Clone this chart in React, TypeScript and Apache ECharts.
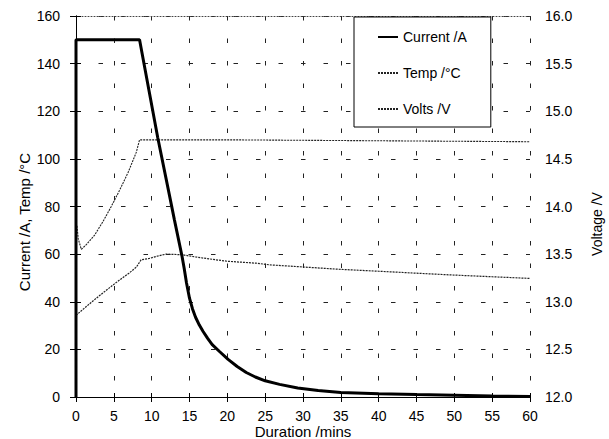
import React, { useEffect, useRef } from "react";
import * as echarts from "echarts";

// Duration (mins) and values for each series
const currentTime = [0, 0, 8.4, 10.8, 12.46, 13.0, 14.0, 14.3, 14.6, 15.0, 15.4, 15.8, 16.3, 16.8, 17.4, 18.0, 19.0, 20.1, 21.3, 22.5, 23.7, 25.0, 26.9, 29.3, 32.0, 35, 40, 45, 50, 55, 60];
const currentVals = [0, 150, 150, 109, 83, 74.5, 59.3, 54, 48, 41.5, 37, 33.5, 30.2, 27.5, 24.6, 22, 19, 15.8, 12.8, 10.3, 8.4, 6.8, 5.3, 3.8, 2.7, 1.9, 1.4, 1.0, 0.7, 0.4, 0.2];

const tempTime = [0, 1, 2, 3, 4, 5, 6, 7, 7.97, 8.6, 9.7, 10.8, 11.9, 13, 14.1, 15.8, 17.6, 20, 21.9, 23.8, 25.6, 30, 35, 40, 45, 50, 55, 60];
const tempVals = [34.3, 37, 39.7, 42.3, 44.8, 47.3, 49.7, 52, 54.5, 57.6, 58.2, 59.2, 60, 59.9, 59.7, 58.8, 58, 57, 56.6, 56.2, 55.5, 54.6, 53.6, 52.8, 52, 51.2, 50.5, 49.8];

const voltsTime = [0, 0.12, 0.3, 0.7, 1.36, 2.46, 3.55, 4.66, 5.76, 6.9, 7.97, 8.4, 20, 40, 60];
const voltsVals = [13.74, 13.8, 13.66, 13.55, 13.6, 13.7, 13.84, 14.0, 14.17, 14.36, 14.57, 14.7, 14.7, 14.69, 14.68];

const seriesNames = ["Current /A", "Temp /\u00b0C", "Volts /V"];
const leftAxisName = "Current /A, Temp /\u00b0C";
const rightAxisName = "Voltage /V";
const xAxisName = "Duration /mins";

const FONT = '"Liberation Sans", Arial, sans-serif';

function pairs(xs: number[], ys: number[]) {
  return xs.map((x, i) => [x, ys[i]]);
}

export default function App() {
  const ref = useRef<HTMLDivElement>(null);
  useEffect(() => {
    if (!ref.current) return;
    const chart = echarts.init(ref.current, null, { renderer: "svg" });
    const gridRect = { left: 76, right: 79, top: 16, bottom: 42 };
    const dash = { color: "#222", width: 1, type: [4.5, 18] as any };
    chart.setOption({
      animation: false,
      backgroundColor: "#fff",
      textStyle: { fontFamily: FONT, color: "#000" },
      grid: [
        { ...gridRect, containLabel: false },
        { ...gridRect, containLabel: false },
      ],
      legend: {
        orient: "vertical",
        left: 354,
        top: 17,
        data: seriesNames,
        itemWidth: 20,
        itemHeight: 14,
        itemGap: 22,
        padding: [13, 24, 11, 23],
        borderColor: "#000",
        borderWidth: 1,
        backgroundColor: "#fff",
        itemStyle: { opacity: 0 },
        textStyle: { fontSize: 14, color: "#000", fontFamily: FONT },
      },
      xAxis: [
        {
          type: "value",
          gridIndex: 0,
          position: "bottom",
          min: 0,
          max: 60,
          interval: 5,
          axisLine: { show: true, lineStyle: { color: "#000", width: 1 } },
          axisTick: { show: true, length: 5, lineStyle: { color: "#000" } },
          axisLabel: { fontSize: 14, color: "#000", margin: 12, fontFamily: FONT },
          splitLine: { show: true, lineStyle: dash },
        },
        {
          type: "value",
          gridIndex: 0,
          position: "top",
          min: 0,
          max: 60,
          interval: 5,
          axisLine: { show: true, lineStyle: { color: "#444", width: 1, type: [1, 2] } },
          axisTick: { show: false },
          axisLabel: { show: false },
          splitLine: { show: false },
        },
        {
          type: "value",
          gridIndex: 1,
          position: "bottom",
          min: 0,
          max: 60,
          interval: 5,
          axisLine: { show: false },
          axisTick: { show: true, inside: true, length: 4, lineStyle: { color: "#000" } },
          axisLabel: { show: false },
          splitLine: { show: false },
        },
      ],
      yAxis: [
        {
          type: "value",
          gridIndex: 0,
          position: "left",
          min: 0,
          max: 160,
          interval: 20,
          axisLine: { show: true, lineStyle: { color: "#000", width: 1 } },
          axisTick: { show: true, length: 6, lineStyle: { color: "#000" } },
          axisLabel: { fontSize: 14, color: "#000", margin: 16, fontFamily: FONT },
          splitLine: { show: true, lineStyle: dash },
        },
        {
          type: "value",
          gridIndex: 0,
          position: "right",
          min: 12,
          max: 16,
          interval: 0.5,
          axisLine: { show: true, lineStyle: { color: "#000", width: 1 } },
          axisTick: { show: true, length: 5, lineStyle: { color: "#000" } },
          axisLabel: {
            fontSize: 14,
            color: "#000",
            margin: 15,
            fontFamily: FONT,
            formatter: (v: number) => v.toFixed(1),
          },
          splitLine: { show: false },
        },
        {
          type: "value",
          gridIndex: 1,
          position: "right",
          min: 12,
          max: 16,
          interval: 0.5,
          axisLine: { show: false },
          axisTick: { show: true, inside: true, length: 5, lineStyle: { color: "#000" } },
          axisLabel: { show: false },
          splitLine: { show: false },
        },
      ],
      graphic: [
        {
          type: "text",
          x: 24,
          y: 222,
          rotation: Math.PI / 2,
          style: {
            text: leftAxisName,
            align: "center",
            verticalAlign: "middle",
            font: `15px ${FONT}`,
            fill: "#000",
          },
        },
        {
          type: "text",
          x: 597,
          y: 224,
          rotation: Math.PI / 2,
          style: {
            text: rightAxisName,
            align: "center",
            verticalAlign: "middle",
            font: `14px ${FONT}`,
            fill: "#000",
          },
        },
        {
          type: "text",
          x: 303,
          y: 431,
          style: {
            text: xAxisName,
            align: "center",
            verticalAlign: "middle",
            font: `15px ${FONT}`,
            fill: "#000",
          },
        },
      ],
      series: [
        {
          name: seriesNames[0],
          type: "line",
          xAxisIndex: 0,
          yAxisIndex: 0,
          data: pairs(currentTime, currentVals),
          symbol: "none",
          lineStyle: { color: "#000", width: 3 },
          itemStyle: { color: "#000" },
          z: 5,
        },
        {
          name: seriesNames[1],
          type: "line",
          xAxisIndex: 0,
          yAxisIndex: 0,
          data: pairs(tempTime, tempVals),
          symbol: "none",
          lineStyle: { color: "#222", width: 1.2, type: [2, 1] },
          itemStyle: { color: "#222" },
          z: 4,
        },
        {
          name: seriesNames[2],
          type: "line",
          xAxisIndex: 0,
          yAxisIndex: 1,
          data: pairs(voltsTime, voltsVals),
          symbol: "none",
          lineStyle: { color: "#222", width: 1.1, type: [2, 1] },
          itemStyle: { color: "#222" },
          z: 4,
        },
      ],
    });
    return () => chart.dispose();
  }, []);
  return <div ref={ref} style={{ width: 609, height: 439, position: "absolute", left: 0, top: 0 }} />;
}
